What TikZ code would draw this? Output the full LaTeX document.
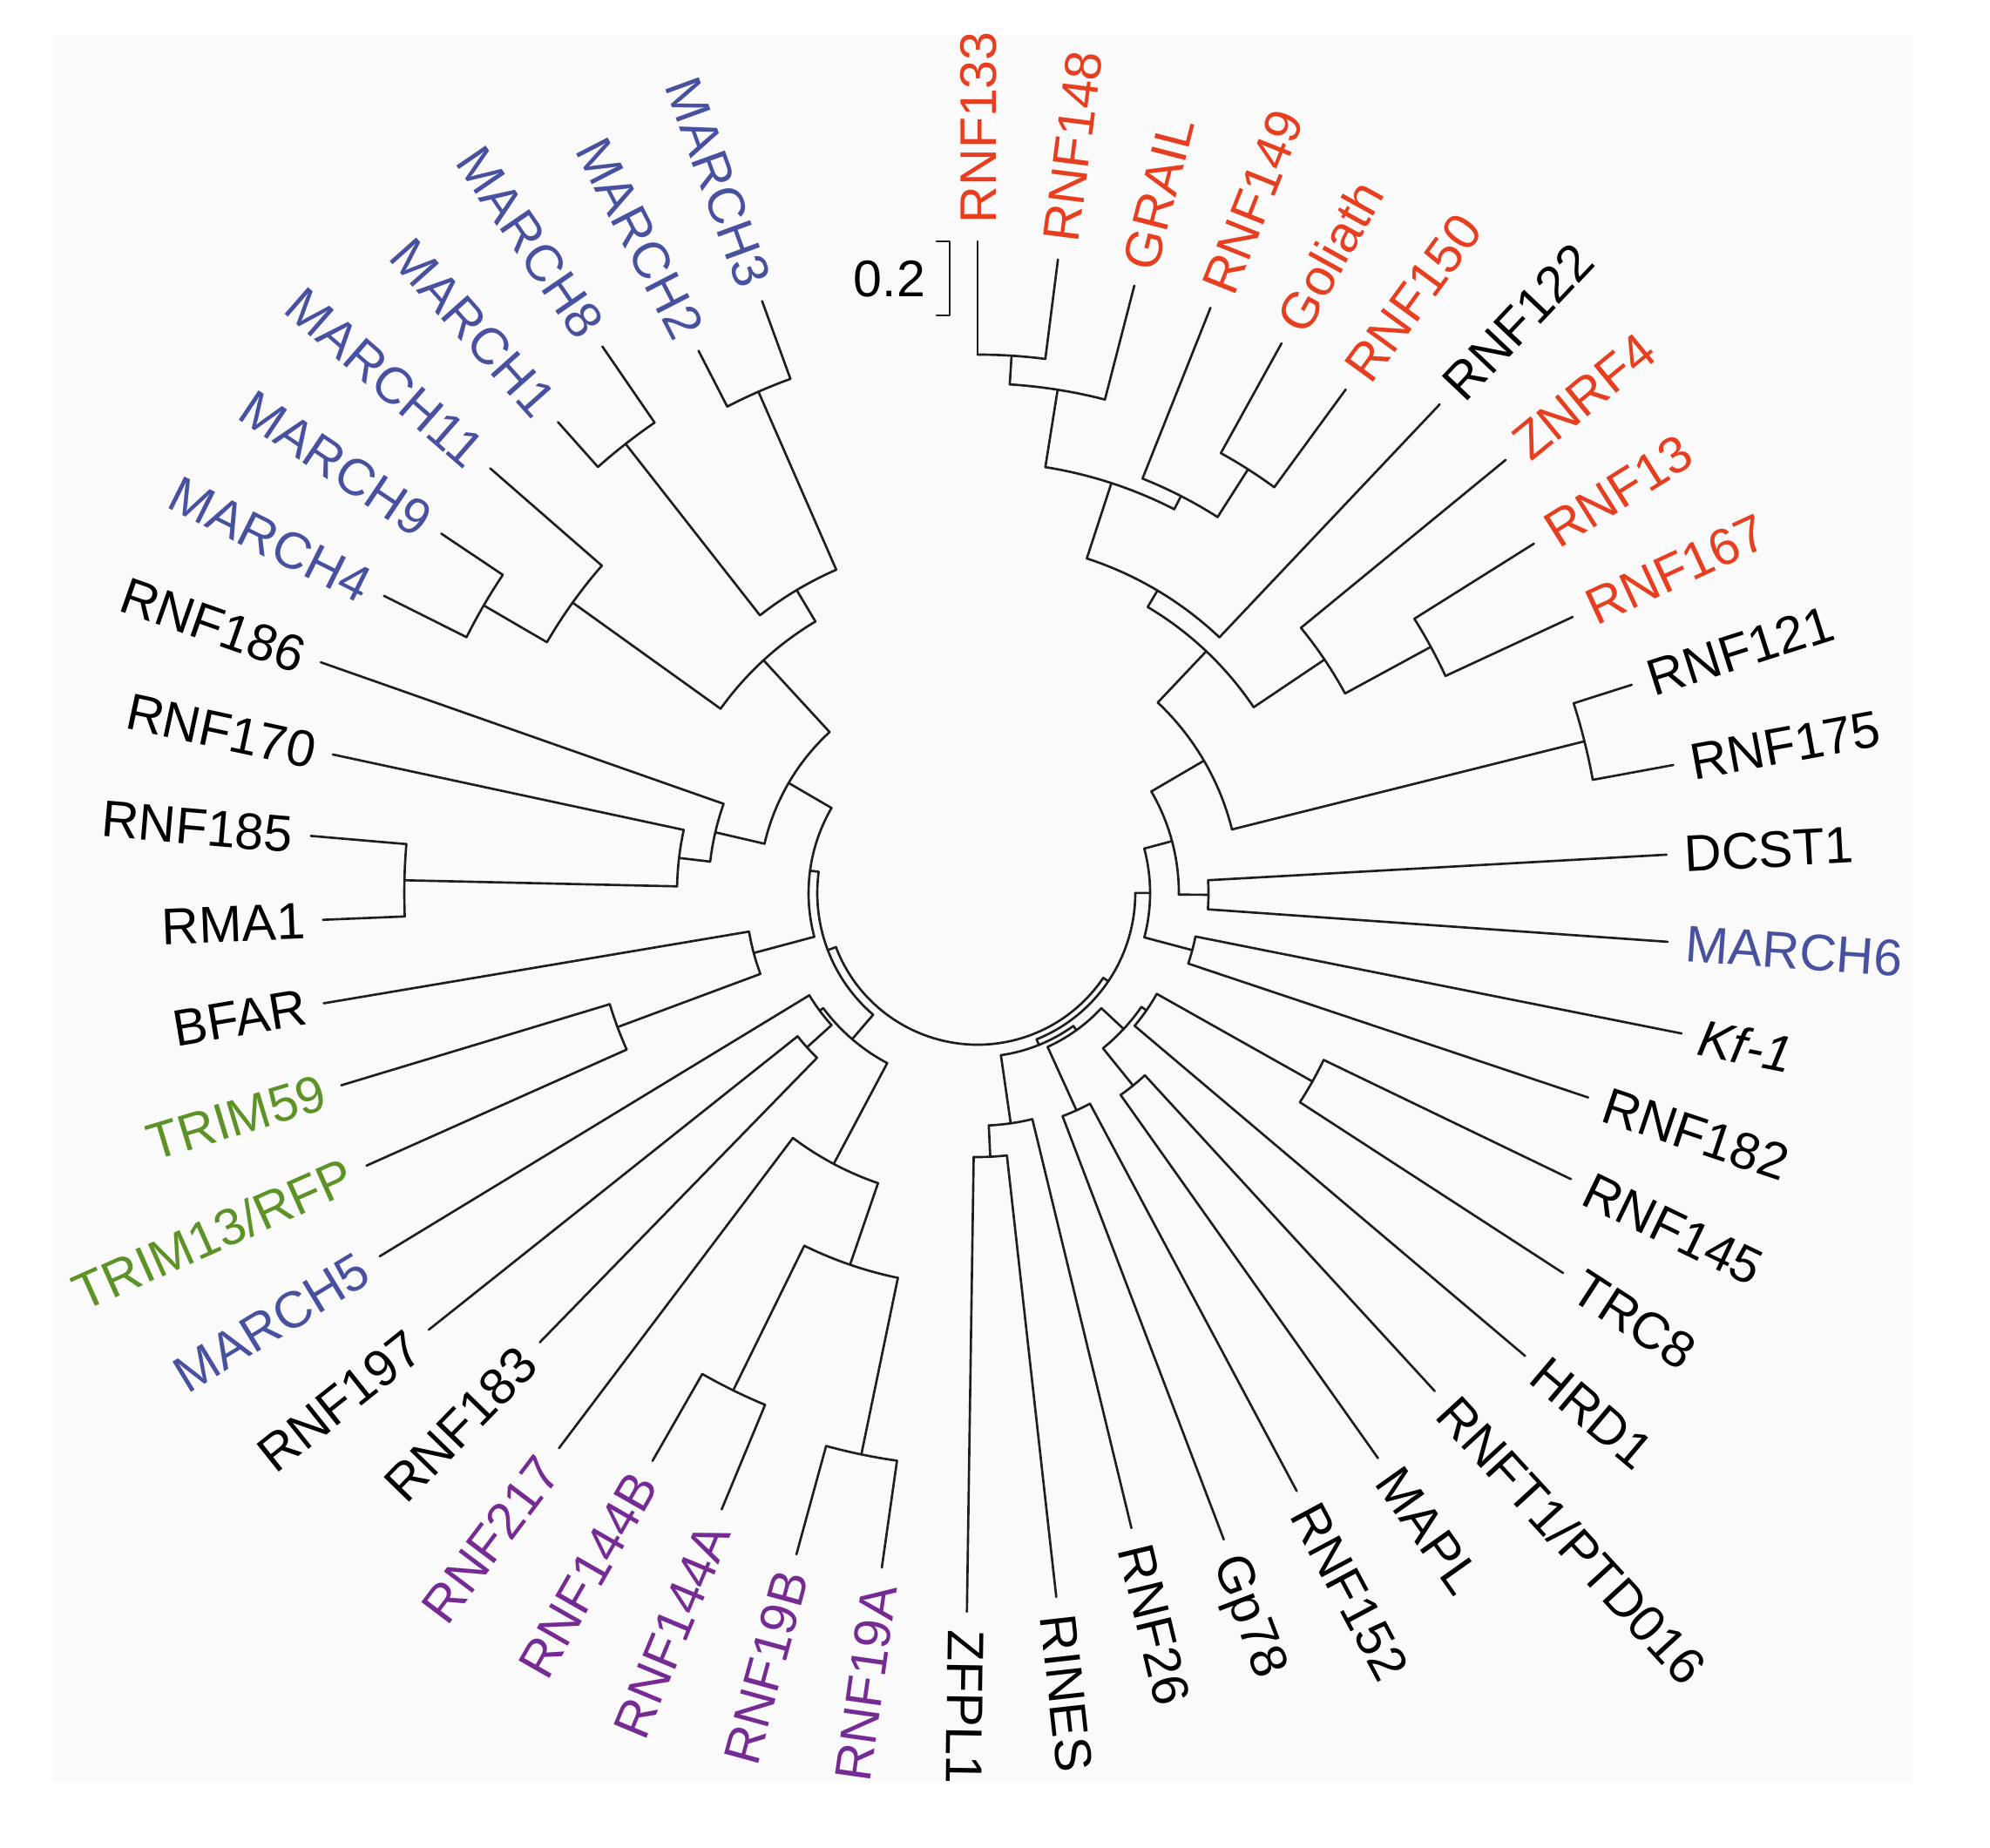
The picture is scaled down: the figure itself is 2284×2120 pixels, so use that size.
\documentclass[tikz,border=0pt]{standalone}
\usepackage{fontspec}
\setmainfont{Liberation Sans}
\definecolor{cred}{RGB}{232,62,32}
\definecolor{cblue}{RGB}{72,80,160}
\definecolor{cgreen}{RGB}{92,146,38}
\definecolor{cpurple}{RGB}{118,42,148}
\definecolor{cline}{RGB}{30,30,30}
\definecolor{bgc}{RGB}{250,250,250}
\newcommand{\nd}[6]{%
  \coordinate (#1) at ({#2}:{#3});
  \coordinate (#1-b) at ({#2}:{#4});
  \draw[br] (#1-b) -- (#1);
  \draw[br] ({#5}:{#3}) arc[start angle={#5}, end angle={#6}, radius={#3}];
}
\newcommand{\lfR}[6]{%
  \coordinate (#1-b) at ({#2}:{#3});
  \coordinate (#1) at ({#2}:{#4});
  \draw[br] (#1-b) -- (#1);
  \node[lab, text=#6, rotate=#2, anchor=west] (#1-t) at ({#2}:{#4+20}) {#5};
}
\newcommand{\lfL}[6]{%
  \coordinate (#1-b) at ({#2}:{#3});
  \coordinate (#1) at ({#2}:{#4});
  \draw[br] (#1-b) -- (#1);
  \node[lab, text=#6, rotate=#2+180, anchor=east] (#1-t) at ({#2}:{#4+20}) {#5};
}
\begin{document}
\begin{tikzpicture}[x=0.01cm,y=0.01cm,
  br/.style={draw=cline, line width=0.75pt, line cap=round, line join=round},
  lab/.style={font=\fontsize{16.8}{20}\selectfont, inner sep=0pt, text height=12pt, text depth=0pt}]
\useasboundingbox (0,0) rectangle (2284,2120);
\fill[white] (0,0) rectangle (2284,2120);
\fill[bgc] (60,75) rectangle (2195,2080);
% scale bar
\coordinate (sb1) at (1075,1843);
\coordinate (sb2) at (1075,1758);
\draw[br] (sb1) -- ++(15,0) |- (sb2);
\node[lab] (sbt) at (1021,1801) {0.2};
\begin{scope}[shift={(1122,1095)}]
% root
\coordinate (root) at (-96.57:174);
\draw[br] (-159.13:174) arc[start angle=-159.13, end angle=-34.0, radius=174];
\nd{nOm}{-34.0}{181}{174}{-68.02}{0.03}
\nd{nal2}{-68.02}{188}{181}{-54.23}{-81.81}
\nd{nal1}{-54.23}{194}{188}{-42.93}{-65.53}
\nd{nO}{0.03}{198}{181}{14.95}{-14.89}
\nd{nM}{14.95}{231}{198}{30.32}{-0.43}
\nd{nK}{30.32}{301}{231}{46.60}{14.04}
\nd{nJ}{46.60}{382}{301}{59.26}{33.94}
\nd{nG}{59.26}{404}{382}{71.92}{46.60}
\nd{nF}{71.92}{495}{404}{80.96}{62.87}
\nd{nB}{80.96}{585}{495}{86.38}{75.53}
\nd{nA}{86.38}{618}{585}{90}{82.77}
\nd{nE}{62.87}{512}{495}{68.30}{57.45}
\nd{nD}{57.45}{577}{512}{61.06}{53.83}
\nd{nI}{33.94}{480}{382}{39.36}{28.51}
\nd{nH}{28.51}{592}{480}{32.13}{24.89}
\nd{nL}{14.04}{718}{301}{17.66}{10.43}
\nd{nN}{-0.43}{265}{231}{3.19}{-4.04}
\nd{nP}{-14.89}{255}{198}{-11.28}{-18.51}
\nd{nka}{-42.93}{229}{194}{-51.07}{-34.79}
\nd{nnu}{-34.79}{236}{229}{-40.21}{-29.36}
\nd{nQ}{-29.36}{441}{236}{-25.74}{-32.98}
\nd{nla}{-51.07}{284}{229}{-47.45}{-54.68}
\nd{nth}{-65.53}{274}{194}{-61.91}{-69.15}
\nd{nze}{-81.81}{267}{188}{-76.38}{-87.24}
\nd{net}{-87.24}{303}{267}{-83.62}{-90.85}
\nd{nSp}{-159.13}{184}{174}{-130.64}{-187.62}
\nd{nBL}{-130.64}{221}{184}{-117.98}{-143.30}
\nd{nde}{-117.98}{352}{221}{-127.02}{-108.94}
\nd{nep}{-108.94}{451}{352}{-101.70}{-116.17}
\nd{nchi}{-101.70}{658}{451}{-98.08}{-105.32}
\nd{nphi}{-116.17}{636}{451}{-112.55}{-119.79}
\nd{nbe}{-143.30}{226}{221}{-137.88}{-148.72}
\nd{nga}{-137.88}{264}{226}{-134.26}{-141.49}
\nd{nS}{-187.62}{194}{184}{-165.01}{-210.23}
\nd{nT}{-165.01}{266}{194}{-170.43}{-159.58}
\nd{nU}{-159.58}{441}{266}{-155.96}{-163.19}
\nd{nW}{-210.23}{251}{194}{-193.04}{-227.41}
\nd{nZc}{-193.04}{309}{251}{-199.36}{-186.71}
\nd{nZb}{-186.71}{345}{309}{-192.13}{-181.28}
\nd{nZa}{-181.28}{658}{345}{-177.66}{-184.90}
\nd{nX}{-227.41}{363}{251}{-215.65}{-239.16}
\nd{nXa}{-215.65}{572}{363}{-221.07}{-210.22}
\nd{nXb}{-210.22}{656}{572}{-213.83}{-206.60}
\nd{nXc}{-239.16}{405}{363}{-231.92}{-246.39}
\nd{nXe}{-231.92}{655}{405}{-228.30}{-235.53}
\nd{nXd}{-246.39}{628}{405}{-242.77}{-250.00}
% leaves
\lfR{l1}{90}{618}{748}{RNF133}{cred}
\lfR{l2}{82.77}{618}{733}{RNF148}{cred}
\lfR{l3}{75.53}{585}{720}{GRAIL}{cred}
\lfR{l4}{68.30}{512}{723}{RNF149}{cred}
\lfR{l5}{61.06}{577}{721}{Goliath}{cred}
\lfR{l6}{53.83}{577}{716}{RNF150}{cred}
\lfR{l7}{46.60}{404}{772}{RNF122}{black}
\lfR{l8}{39.36}{480}{784}{ZNRF4}{cred}
\lfR{l9}{32.13}{592}{754}{RNF13}{cred}
\lfR{l10}{24.89}{592}{753}{RNF167}{cred}
\lfR{l11}{17.66}{718}{788}{RNF121}{black}
\lfR{l12}{10.43}{718}{812}{RNF175}{black}
\lfR{l13}{3.19}{265}{792}{DCST1}{black}
\lfR{l14}{-4.04}{265}{794}{MARCH6}{cblue}
\lfR{l15}{-11.28}{255}{824}{\itshape Kf-1}{black}
\lfR{l16}{-18.51}{255}{739}{RNF182}{black}
\lfR{l17}{-25.74}{441}{756}{RNF145}{black}
\lfR{l18}{-32.98}{441}{801}{TRC8}{black}
\lfR{l19}{-40.21}{236}{823}{HRD1}{black}
\lfR{l20}{-47.45}{284}{776}{RNFT1/PTD016}{black}
\lfR{l21}{-54.68}{284}{795}{MAPL}{black}
\lfR{l22}{-61.91}{274}{778}{RNF152}{black}
\lfR{l23}{-69.15}{274}{794}{Gp78}{black}
\lfR{l24}{-76.38}{267}{750}{RNF26}{black}
\lfR{l25}{-83.62}{303}{813}{RINES}{black}
\lfR{l26}{-90.85}{303}{825}{ZFPL1}{black}
\lfL{l27}{-98.08}{658}{782}{RNF19A}{cpurple}
\lfL{l28}{-105.32}{658}{787}{RNF19B}{cpurple}
\lfL{l29}{-112.55}{636}{766}{RNF144A}{cpurple}
\lfL{l30}{-119.79}{636}{751}{RNF144B}{cpurple}
\lfL{l31}{-127.02}{352}{798}{RNF217}{cpurple}
\lfL{l32}{-134.26}{264}{720}{RNF183}{black}
\lfL{l33}{-141.49}{264}{805}{RNF197}{black}
\lfL{l34}{-148.72}{226}{803}{MARCH5}{cblue}
\lfL{l35}{-155.96}{441}{768}{TRIM13/RFP}{cgreen}
\lfL{l36}{-163.19}{441}{763}{TRIM59}{cgreen}
\lfL{l37}{-170.43}{266}{761}{BFAR}{black}
\lfL{l38}{-177.66}{658}{752}{RMA1}{black}
\lfL{l39}{-184.90}{658}{768}{RNF185}{black}
\lfL{l40}{-192.13}{345}{757}{RNF170}{black}
\lfL{l41}{-199.36}{309}{799}{RNF186}{black}
\lfL{l42}{-206.60}{656}{762}{MARCH4}{cblue}
\lfL{l43}{-213.83}{656}{741}{MARCH9}{cblue}
\lfL{l44}{-221.07}{572}{742}{MARCH11}{cblue}
\lfL{l45}{-228.30}{655}{724}{MARCH1}{cblue}
\lfL{l46}{-235.53}{655}{761}{MARCH8}{cblue}
\lfL{l47}{-242.77}{628}{700}{MARCH2}{cblue}
\lfL{l48}{-250.00}{628}{723}{MARCH3}{cblue}
\end{scope}
\end{tikzpicture}
\end{document}
